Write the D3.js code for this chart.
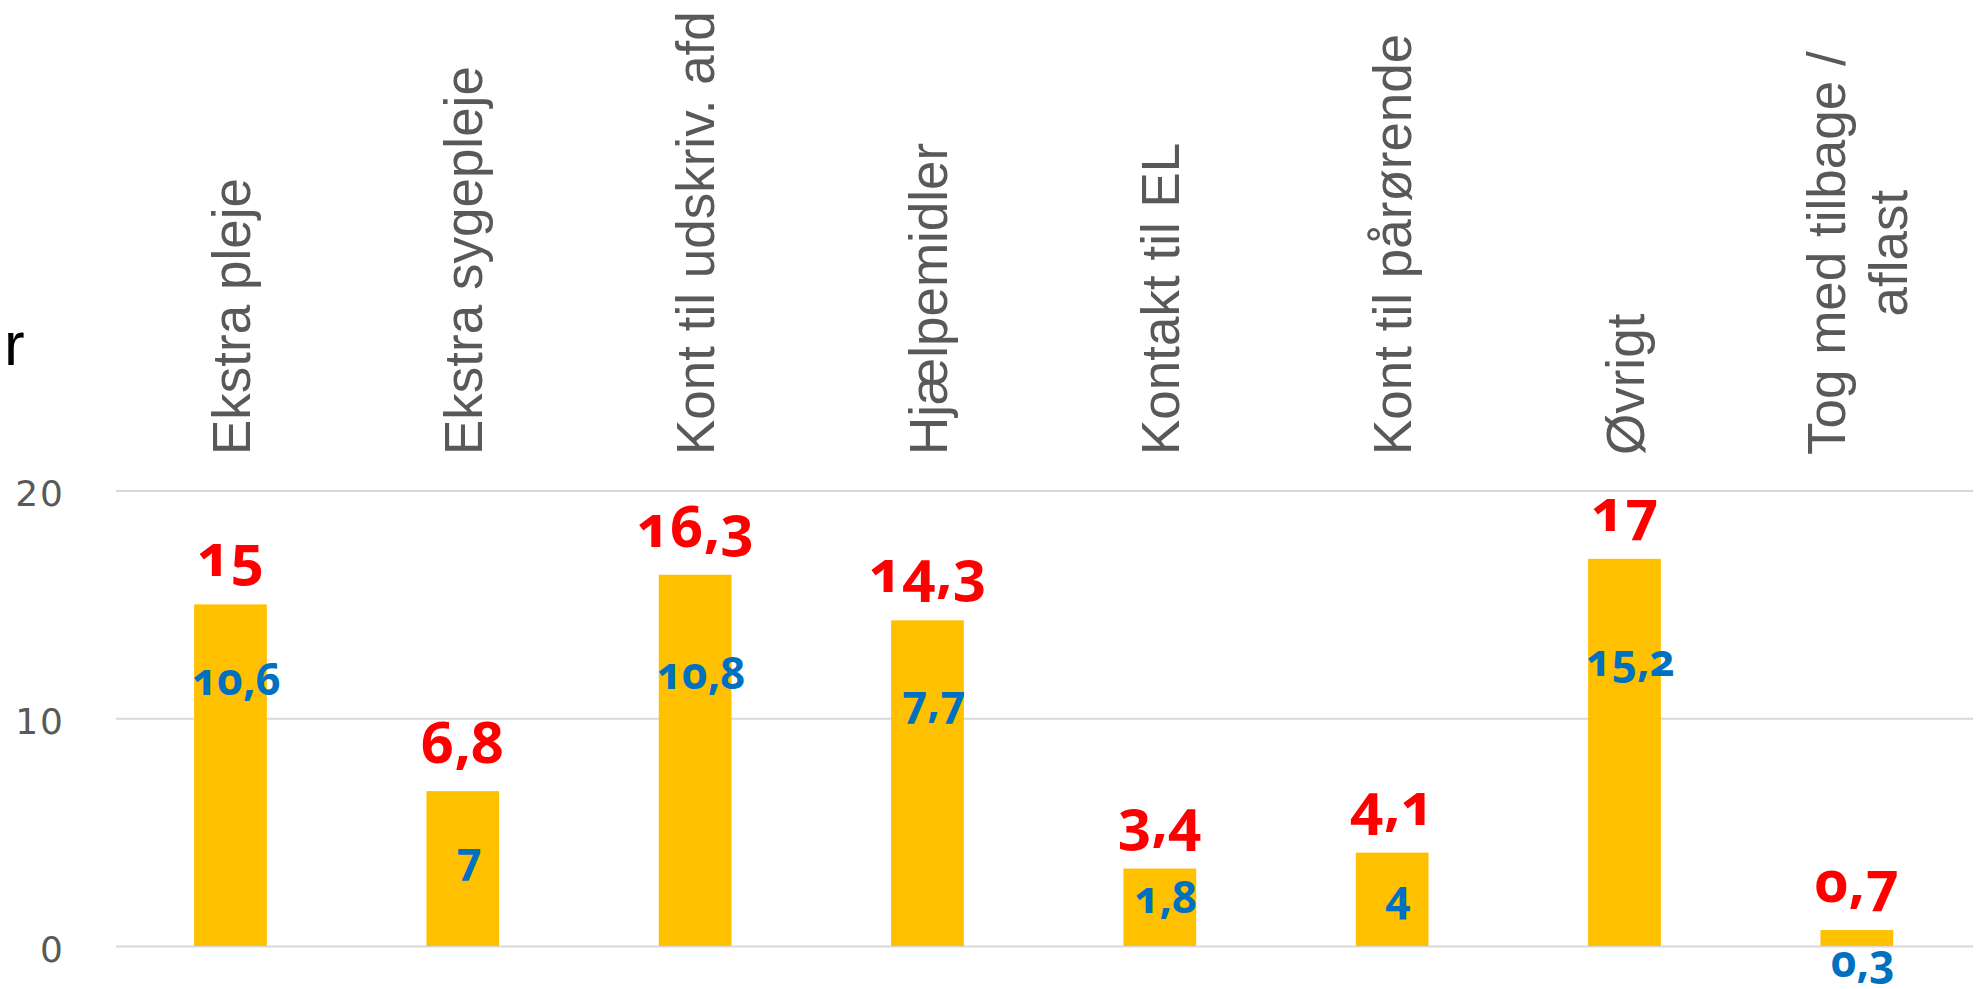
<!DOCTYPE html>
<html>
<head>
<meta charset="utf-8">
<script src="https://cdn.jsdelivr.net/npm/d3@7"></script>
<style>
    body { margin: 0; background: #ffffff; }
    svg { display: block; }
</style>
</head>
<body>
<div id="chart"></div>
<script>

// Chart values
var categories = ["Ekstra pleje", "Ekstra sygepleje", "Kont til udskriv. afd", "Hjælpemidler",
    "Kontakt til EL", "Kont til pårørende", "Øvrigt", "Tog med tilbage / aflast"];
var current = [15, 6.8, 16.3, 14.3, 3.4, 4.1, 17, 0.7];      // bars, red labels
var previous = [10.6, 7, 10.8, 7.7, 1.8, 4, 15.2, 0.3];       // blue labels
// blue labels were placed by hand in the source, baseline given in axis units
var previousLabelAt = [11.0, 3.15, 11.3, 10.05, 1.45, 1.5, 11.85, -1.35];
var yTicks = [0, 10, 20];

var width = 1983, height = 989;
var plot = {left: 114.3, right: 1973, top: 490.5, bottom: 946};

var svg = d3.select("#chart").append("svg")
    .attr("width", width)
    .attr("height", height);

var x = d3.scaleBand()
    .domain(categories)
    .range([plot.left, plot.right])
    .paddingInner(0.687)
    .paddingOuter(0.3435);

var y = d3.scaleLinear()
    .domain([0, 20])
    .range([plot.bottom, plot.top]);

let fmt = function(v) { return String(v).replace(".", ","); };

// gridlines + tick labels
var yAxis = svg.append("g")
    .attr("transform", "translate(116,0)")
    .call(d3.axisLeft(y)
        .tickValues(yTicks)
        .tickSize(-(plot.right - 116))
        .tickPadding(51)
        .tickFormat(d3.format("d")));

yAxis.select(".domain").remove();
yAxis.selectAll("line")
    .attr("stroke", "#d9d9d9")
    .attr("stroke-width", 2);
yAxis.selectAll("text")
    .attr("fill", "#595959")
    .attr("font-family", "DejaVu Sans")
    .attr("font-size", "36px")
    .attr("letter-spacing", "2px")
    .attr("dy", "0.42em");

// bars
svg.selectAll(".bar")
    .data(current)
    .enter()
    .append("rect")
        .attr("class", "bar")
        .attr("x", function(d, i) { return x(categories[i]); })
        .attr("y", function(d) { return y(d); })
        .attr("width", x.bandwidth())
        .attr("height", function(d) { return y(0) - y(d); })
        .attr("fill", "#ffc000");

// red labels above the bars
svg.selectAll(".lbl-cur")
    .data(current)
    .enter()
    .append("text")
        .attr("class", "lbl-cur")
        .attr("x", function(d, i) { return x(categories[i]) + x.bandwidth() / 2; })
        .attr("y", function(d) { return y(d) - 28; })
        .attr("text-anchor", "middle")
        .attr("font-family", "Noto Sans")
        .attr("font-weight", "bold")
        .attr("font-size", "58px")
        .style("font-variant-numeric", "oldstyle-nums")
        .attr("fill", "#ff0000")
        .text(fmt);

// blue labels
svg.selectAll(".lbl-prev")
    .data(previous)
    .enter()
    .append("text")
        .attr("class", "lbl-prev")
        .attr("x", function(d, i) { return x(categories[i]) + x.bandwidth() / 2 + 6; })
        .attr("y", function(d, i) { return y(previousLabelAt[i]); })
        .attr("text-anchor", "middle")
        .attr("font-family", "Noto Sans")
        .attr("font-weight", "bold")
        .attr("font-size", "44px")
        .style("font-variant-numeric", "oldstyle-nums")
        .attr("fill", "#0070c0")
        .text(fmt);

// rotated category labels, wrapped like the source
var labelBase = 455, wrapWidth = 465, lineHeight = 62;
var catLabels = svg.selectAll(".cat")
    .data(categories)
    .enter()
    .append("text")
        .attr("class", "cat")
        .attr("font-family", "Liberation Sans, Arial, sans-serif")
        .attr("font-size", "53px")
        .attr("fill", "#595959");

catLabels.each(function(d) {
    let el = d3.select(this);
    let words = d.split(" ");
    let lines = [];
    let line = [];
    let probe = el.append("tspan");
    words.forEach(function(w) {
        let test = line.concat([w]).join(" ");
        probe.text(test);
        if (probe.node().getComputedTextLength() > wrapWidth && line.length) {
            lines.push(line.join(" "));
            line = [w];
        } else {
            line.push(w);
        }
    });
    lines.push(line.join(" "));

    let maxLen = 0;
    lines.forEach(function(l) {
        probe.text(l);
        maxLen = Math.max(maxLen, probe.node().getComputedTextLength());
    });
    probe.remove();

    let cx = x(d) + x.bandwidth() / 2;
    el.attr("transform", "translate(" + cx + "," + labelBase + ") rotate(-90)")
        .attr("text-anchor", "middle");
    lines.forEach(function(l, i) {
        el.append("tspan")
            .attr("x", maxLen / 2)
            .attr("y", (i - (lines.length - 1) / 2) * lineHeight)
            .attr("dy", "0.36em")
            .text(l);
    });
});

// stray fragment of a title at the left edge
svg.append("text")
    .attr("x", 4)
    .attr("y", 365)
    .attr("font-family", "Liberation Sans, Arial, sans-serif")
    .attr("font-size", "62px")
    .attr("fill", "#000000")
    .text("r");

</script>
</body>
</html>
